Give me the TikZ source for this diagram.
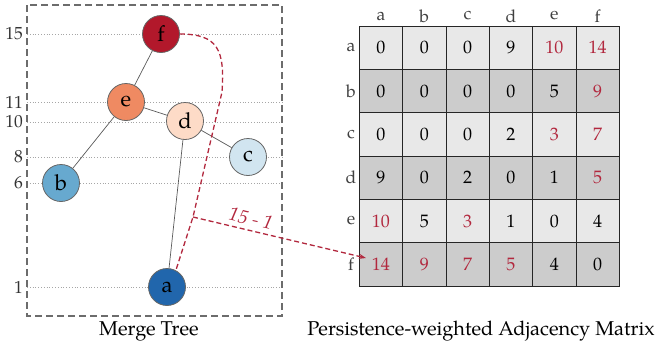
\documentclass[tikz,border=0pt]{standalone}
\usepackage{fontspec}
\setmainfont{texgyrepagella}[Extension=.otf,UprightFont=*-regular,ItalicFont=*-italic,BoldFont=*-bold,BoldItalicFont=*-bolditalic]
\usetikzlibrary{arrows.meta}
\definecolor{cF}{HTML}{B2182B}
\definecolor{cE}{HTML}{EF8A62}
\definecolor{cD}{HTML}{FDDBC7}
\definecolor{cC}{HTML}{D1E5F0}
\definecolor{cB}{HTML}{67A9CF}
\definecolor{cA}{HTML}{2166AC}
\definecolor{redtxt}{HTML}{B2283E}
\definecolor{mlight}{HTML}{E8E8E8}
\definecolor{mdark}{HTML}{CCCCCC}
\newcommand{\R}[1]{\textcolor{redtxt}{#1}}
\begin{document}
\begin{tikzpicture}[x=1pt,y=-1pt,
  treenode/.style={circle,draw=gray!80!black,line width=0.8pt,minimum size=37pt,inner sep=0pt,font=\fontsize{22}{24}\selectfont},
  tedge/.style={draw=gray!70!black,line width=0.7pt},
  level/.style={draw=gray!70,dotted,line width=0.8pt},
  lvllabel/.style={anchor=east,inner sep=1pt,font=\fontsize{17.5}{19}\selectfont,text=black!80},
  cell/.style={draw=black!85,line width=0.8pt,minimum size=43.33pt,inner sep=0pt,font=\fontsize{18}{20}\selectfont},
  axlabel/.style={inner sep=0pt,font=\fontsize{17.5}{19}\selectfont,text=black!75},
  reddash/.style={draw=redtxt,dashed,dash pattern=on 5pt off 3pt,line width=1.3pt},
  caption/.style={font=\fontsize{20}{22}\selectfont}]
\useasboundingbox (0,0) rectangle (662,349);
% level lines
\foreach \v/\y in {15/34,11/102,10/122,8/157,6/183,1/287}{
  \node[lvllabel] (lv\v) at (24,\y) {\v};
  \coordinate (lvs\v) at (27,\y);
  \coordinate (lve\v) at (282,\y);
  \draw[level] (lvs\v) -- (lve\v);
}
% dashed box
\draw[draw=gray!85!black,line width=1.4pt,dash pattern=on 7pt off 4pt] (27,5) rectangle (282,316);
% tree
\node[treenode,fill=cF] (f) at (161,34) {f};
\node[treenode,fill=cE] (e) at (126,102) {e};
\node[treenode,fill=cD] (d) at (185,121) {d};
\node[treenode,fill=cC] (c) at (248,157) {c};
\node[treenode,fill=cB] (b) at (61,183) {b};
\node[treenode,fill=cA] (a) at (167,287) {a};
\draw[tedge] (f) -- (e);
\draw[tedge] (e) -- (b);
\draw[tedge] (e) -- (d);
\draw[tedge] (d) -- (c);
\draw[tedge] (d) -- (a);
% matrix
\foreach \r/\rl/\rf/\vals in {1/a/mlight/{0,0,0,9,\R{10},\R{14}},
  2/b/mdark/{0,0,0,0,5,\R{9}},
  3/c/mlight/{0,0,0,2,\R{3},\R{7}},
  4/d/mdark/{9,0,2,0,1,\R{5}},
  5/e/mlight/{\R{10},5,\R{3},1,0,4},
  6/f/mdark/{\R{14},\R{9},\R{7},\R{5},4,0}}{
  \node[axlabel] (row\rl) at (351,{26+(\r-0.5)*43.33}) {\rl};
  \foreach \v [count=\c] in \vals {
    \node[cell,fill=\rf] (m\rl\c) at ({359.3+(\c-0.5)*43.33},{26+(\r-0.5)*43.33}) {\v};
  }
}
\foreach \cl [count=\c] in {a,b,c,d,e,f}{
  \node[axlabel] (col\cl) at ({359.3+(\c-0.5)*43.33},16) {\cl};
}
% red dashed connector
\coordinate (bend) at (193,217);
\coordinate (tip) at (366,258);
\draw[reddash] (f.east) .. controls (218,34) and (225,50) .. (222,92) -- (bend) -- (a.62);
\draw[reddash,-{Stealth[length=7pt,width=5pt]}] (bend) -- node[pos=0.32,sloped,above=1pt,text=redtxt,font=\fontsize{19}{21}\selectfont\itshape] (lab) {15 - 1} (tip);
% captions
\node[caption] (cap1) at (149,331) {Merge Tree};
\node[caption] (cap2) at (481,331) {Persistence-weighted Adjacency Matrix};
\end{tikzpicture}
\end{document}
